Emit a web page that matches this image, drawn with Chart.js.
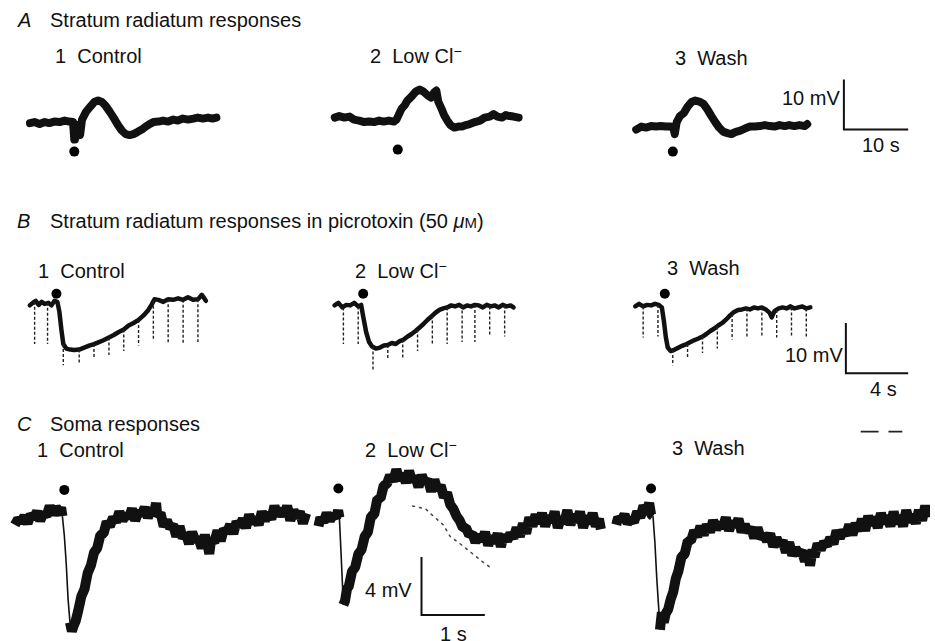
<!DOCTYPE html>
<html>
<head>
<meta charset="utf-8">
<script src="https://cdn.jsdelivr.net/npm/chart.js@4/dist/chart.umd.min.js"></script>
<style>
body { margin:0; background:#fff; width:935px; height:641px; overflow:hidden; position:relative;
       font-family:"Liberation Sans", Arial, sans-serif; color:#111; }
canvas { position:absolute; left:0; }
.lbl { position:absolute; font-size:20px; line-height:20px; white-space:pre; }
.sup { font-size:14px; position:relative; top:-7px; }
.it { font-style:italic; }
</style>
</head>
<body>

<div class="lbl it" style="left:18px;top:10px">A</div>
<div class="lbl" style="left:50px;top:10px">Stratum radiatum responses</div>
<div class="lbl" style="left:55px;top:46px">1  Control</div>
<div class="lbl" style="left:370px;top:46px">2  Low Cl<span class="sup">−</span></div>
<div class="lbl" style="left:675px;top:48px">3  Wash</div>
<div class="lbl" style="left:782px;top:88px">10 mV</div>
<div class="lbl" style="left:862px;top:135px">10 s</div>

<div class="lbl it" style="left:17px;top:211px">B</div>
<div class="lbl" style="left:50px;top:211px">Stratum radiatum responses in picrotoxin (50 <i>μ</i><span style="font-size:15px">M</span>)</div>
<div class="lbl" style="left:38px;top:261px">1  Control</div>
<div class="lbl" style="left:355px;top:261px">2  Low Cl<span class="sup">−</span></div>
<div class="lbl" style="left:667px;top:258px">3  Wash</div>
<div class="lbl" style="left:785px;top:345px">10 mV</div>
<div class="lbl" style="left:870px;top:379px">4 s</div>

<div class="lbl it" style="left:17px;top:414px">C</div>
<div class="lbl" style="left:50px;top:414px">Soma responses</div>
<div class="lbl" style="left:37px;top:440px">1  Control</div>
<div class="lbl" style="left:365px;top:440px">2  Low Cl<span class="sup">−</span></div>
<div class="lbl" style="left:672px;top:438px">3  Wash</div>
<div class="lbl" style="left:365px;top:580px">4 mV</div>
<div class="lbl" style="left:440px;top:624px">1 s</div>

<canvas id="panelA" width="935" height="110" style="top:60px"></canvas>
<canvas id="panelB" width="935" height="115" style="top:275px"></canvas>
<canvas id="panelC" width="935" height="221" style="top:420px"></canvas>

<script>
// ---- A: stratum radiatum, time in s, voltage in mV ----
const a1Time = [-7.2,-6.5,-5.7,-4.9,-4.2,-3.4,-2.6,-1.8,-1.1,-0.5,-0.3,-0.2,0.3,0.6,0.9,1.5,2.2,2.8,3.4,4.0,4.6,5.2,5.8,6.5,7.1,7.7,8.3,8.9,9.5,10.2,10.8,11.4,12.0,12.8,13.5,14.3,15.1,15.8,16.6,17.4,18.2,18.9,19.7,20.5,21.2,21.8];
const a1mV = [0.2,0.4,0,0.4,0.2,0.5,0.4,0.7,0.5,0.4,-3.1,-0.2,-0.2,-2.2,0.9,2.4,3.5,4.4,4.7,4.4,3.6,2.5,1.3,-0.2,-1.3,-2.0,-2.2,-2.0,-1.6,-1.1,-0.5,0,0.4,0.5,0.7,0.5,0.9,0.7,1.1,0.9,1.1,1.3,1.1,1.3,1.1,1.3];

const a2Time = [-9.8,-9.1,-8.3,-7.5,-6.8,-6.0,-5.2,-4.5,-3.7,-2.9,-2.2,-1.4,-0.6,-0.2,0.2,0.6,1.1,1.5,2.2,2.8,3.4,4.0,4.6,5.2,5.7,6.0,6.3,6.8,7.2,7.7,8.2,8.8,9.4,10.0,10.6,11.2,12.0,12.8,13.5,14.3,14.9,15.5,16.2,16.8,17.4,18.0,18.8];
const a2mV = [1.3,1.6,1.3,1.5,0.9,0.7,0.4,0.5,0.4,0.7,0.5,0.7,0.5,0.9,2.0,3.1,3.8,4.7,5.6,6.5,6.9,6.5,5.8,5.3,6.4,6.7,4.5,3.1,1.8,0.7,-0.2,-0.7,-0.5,-0.5,-0.2,0,0.4,0.7,1.3,1.5,2.0,1.5,1.3,1.8,1.6,1.5,1.3];

const a3Time = [-6.0,-5.2,-4.5,-3.7,-2.9,-2.2,-1.4,-0.6,-0.2,0,0.3,0.8,1.4,2.0,2.6,3.2,3.8,4.5,5.1,5.7,6.3,6.9,7.5,8.2,8.8,9.4,10.2,10.9,11.7,12.5,13.2,14.0,14.8,15.5,16.3,17.1,17.8,18.6,19.4,20.2,20.6];
const a3mV = [-1.1,-0.5,-0.7,-0.4,-0.5,-0.4,-0.5,-0.5,-0.9,-2.0,0.4,1.6,2.2,3.5,4.4,4.7,4.5,4.0,2.9,1.6,0.4,-0.7,-1.5,-1.8,-2.0,-1.6,-1.3,-0.9,-0.5,-0.5,-0.4,-0.2,-0.4,-0.5,-0.2,-0.4,-0.2,-0.4,-0.2,-0.4,0];

const aStimTime = [-0.3, 0, -0.3];
const aStimmV = [-5.5, -5.1, -5.5];

// ---- B: picrotoxin, time in s, voltage in mV ----
const b1Time = [-1.71,-1.52,-1.33,-1.14,-0.95,-0.76,-0.51,-0.32,-0.13,0.06,0.19,0.32,0.44,0.63,0.89,1.14,1.46,1.78,2.10,2.41,2.73,3.05,3.37,3.68,4.00,4.32,4.63,4.95,5.27,5.59,5.90,6.10,6.29,6.54,6.86,7.17,7.49,7.81,8.13,8.44,8.76,9.08,9.33,9.59];
const b1mV = [0.4,0.9,1.3,0.5,1.1,0.7,0.9,0.4,1.3,1.1,-0.9,-4.5,-7.3,-8.2,-8.4,-8.5,-8.4,-8.0,-7.6,-7.3,-6.9,-6.5,-6.0,-5.5,-4.9,-4.4,-3.6,-3.1,-2.5,-1.6,-0.5,0.5,1.6,1.5,1.1,1.6,1.5,1.8,1.5,2.0,1.5,1.6,2.5,1.3];
const b1PulseTime = [-1.40,-0.57,0.44,1.46,2.41,3.37,4.32,5.27,6.22,7.17,8.13,9.08];
const b1PulseTop = [1.1,0.9,-7.3,-8.4,-7.3,-6.0,-4.4,-2.5,1.3,1.6,1.5,1.6];
const b1PulseBottom = [-7.3,-7.3,-11.5,-11.3,-10.0,-9.5,-8.7,-7.6,-6.4,-7.3,-7.3,-6.9];

const b2Time = [-1.71,-1.46,-1.21,-0.95,-0.70,-0.44,-0.19,0,0.13,0.32,0.51,0.70,0.95,1.21,1.46,1.71,1.97,2.22,2.48,2.73,2.98,3.24,3.49,3.75,4.00,4.25,4.51,4.76,5.02,5.27,5.52,5.78,6.03,6.29,6.54,6.79,7.05,7.30,7.56,7.81,8.06,8.32,8.57,8.83,9.08,9.33,9.59,9.78];
const b2mV = [0.4,0.9,0,0.5,0.4,0.9,0.2,0.5,-1.8,-4.9,-6.9,-7.8,-8.2,-8.0,-7.6,-7.5,-7.1,-7.3,-6.7,-6.4,-5.8,-5.3,-4.7,-4.0,-3.3,-2.5,-1.8,-1.1,-0.5,-0.2,0,0.4,0.2,0.5,0,0.4,0.2,0.5,0.4,0,0.5,0.2,0.4,0,0.5,0.2,0.4,0];
const b2PulseTime = [-1.14,-0.19,0.76,1.71,2.67,3.62,4.57,5.52,6.48,7.30,8.25,9.21];
const b2PulseTop = [0,0.2,-7.8,-7.5,-6.4,-4.4,-1.6,0,0.4,0.5,0.2,0.4];
const b2PulseBottom = [-7.3,-7.3,-12.7,-10.5,-10.0,-8.7,-7.6,-7.3,-6.9,-6.9,-5.5,-5.8];

const b3Time = [-1.65,-1.40,-1.14,-0.89,-0.63,-0.38,-0.13,0.06,0.19,0.32,0.44,0.63,0.89,1.14,1.40,1.65,1.90,2.16,2.41,2.67,2.92,3.17,3.43,3.68,3.94,4.19,4.44,4.70,4.95,5.21,5.46,5.71,5.97,6.22,6.48,6.73,6.98,7.11,7.30,7.56,7.81,8.06,8.32,8.57,8.83,9.08,9.33,9.59];
const b3mV = [0.2,0.7,0.2,0.5,0.4,0.7,0.5,0,-2.7,-6.0,-8.0,-8.7,-8.4,-8.0,-7.6,-7.3,-6.9,-6.5,-6.2,-5.8,-5.3,-4.7,-4.2,-3.6,-3.1,-2.4,-1.6,-0.9,-0.5,-0.4,-0.2,-0.4,0,-0.2,0,-0.4,-1.1,-2.0,-0.7,-0.2,0,-0.2,0.2,-0.2,0,0.2,-0.2,0];
const b3PulseTime = [-1.14,-0.19,0.76,1.71,2.67,3.62,4.57,5.52,6.48,7.43,8.38,9.33];
const b3PulseTop = [0.2,0.5,-8.5,-7.3,-5.8,-3.8,-1.3,-0.2,0,-0.5,0,-0.2];
const b3PulseBottom = [-6.0,-5.8,-11.5,-10.0,-9.1,-8.2,-6.4,-6.0,-6.0,-6.0,-6.0,-6.0];

const bStimTime = [0, 0.13, 0.25];
const bStimmV = [2.7, 2.7, 2.7];

// ---- C: soma, time in ms, voltage in mV ----
const c1Time = [-750,-700,-650,-600,-550,-500,-450,-400,-350,-300,-250,-200,-150,-100,-50,-20,0,30,60,90,120,150,180,210,250,300,350,400,450,500,550,600,650,700,750,800,850,900,950,1000,1050,1100,1150,1200,1250,1300,1350,1400,1450,1480,1500,1550,1600,1650,1700,1750,1800,1850,1900,1950,2000,2050,2100,2150,2200,2250,2300,2320,2350,2400,2450,2500,2550,2600,2650,2700,2750,2800,2850,2900,2950,3000,3050,3100,3150,3200,3250,3300,3350,3400,3450,3500,3550,3600,3650,3700,3750,3800,3850];
const c1mV = [-0.3,0.1,-0.1,0.3,-0.2,0.4,0.2,0.6,0.0,0.5,0.3,1.0,0.4,0.9,0.6,0.9,0.3,-1.0,-2.9,-5.4,-7.0,-7.6,-7.2,-6.9,-6.2,-5.2,-4.7,-3.6,-3.1,-2.2,-1.9,-1.0,-0.9,-0.1,-0.4,0.2,-0.1,0.6,0.0,0.4,0.2,0.8,0.0,0.6,0.4,0.9,0.2,0.7,0.6,1.2,0.3,0.5,-0.4,0.0,-0.5,-0.3,-1.1,-0.4,-1.2,-0.9,-1.6,-0.8,-1.4,-1.2,-1.9,-1.0,-1.8,-2.3,-1.3,-1.5,-0.7,-1.4,-0.6,-0.8,-0.3,-0.9,-0.1,-0.4,0.1,-0.5,0.4,-0.2,0.2,-0.3,0.6,0.0,0.5,0.1,1.0,0.3,0.8,0.3,1.0,0.0,0.7,0.2,0.6,-0.2,0.5];

const c2Time = [-330,-300,-250,-200,-150,-100,-50,-20,0,30,63,90,120,150,200,250,300,350,400,450,500,550,600,650,700,750,800,850,900,950,1000,1050,1100,1150,1200,1250,1300,1350,1400,1450,1500,1550,1600,1650,1700,1750,1800,1850,1900,1950,2000,2050,2100,2150,2200,2250,2300,2350,2400,2450,2500,2550,2600,2650,2700,2750,2800,2850,2900,2950,3000,3050,3100,3150,3200,3250,3300,3350,3400,3450,3500,3550,3600,3650,3700,3750,3800,3850,3900,3950,4000,4050,4100,4130];
const c2mV = [-0.4,0.2,-0.1,0.5,0.0,0.4,0.2,0.7,0.2,-2.6,-5.8,-5.5,-4.7,-4.5,-3.5,-3.2,-2.3,-2.0,-1.1,-0.8,0.3,0.4,1.5,1.5,2.4,2.5,3.1,2.7,3.5,2.8,3.2,2.6,3.4,2.7,3.0,2.3,3.1,2.6,2.8,2.0,2.8,2.1,2.4,1.6,1.9,1.1,0.8,0.3,0.0,-0.5,-0.5,-1.0,-0.9,-1.5,-1.0,-1.4,-0.8,-1.7,-1.1,-1.5,-0.9,-1.8,-1.0,-1.4,-0.9,-1.2,-0.5,-1.1,-0.2,-0.9,0.2,-0.4,0.4,-0.2,0.5,-0.4,0.3,-0.1,0.6,-0.5,0.2,-0.2,0.7,-0.3,0.4,-0.1,0.6,-0.5,0.3,-0.2,0.5,-0.4,0.1,-0.6];
// dotted extrapolation under the low Cl- response
const c2FitTime = [1156,1359,1484,1641,1750,1906,2109,2250,2375];
const c2FitmV = [1.0,0.8,0.3,-0.3,-1.1,-1.6,-2.3,-2.8,-3.2];

const c3Time = [-580,-550,-500,-450,-400,-350,-300,-250,-200,-150,-100,-60,-30,0,30,60,90,110,140,170,200,240,280,320,360,400,450,500,550,600,650,700,750,800,850,900,950,1000,1050,1100,1150,1200,1250,1300,1350,1400,1450,1500,1550,1600,1650,1700,1750,1800,1850,1900,1950,2000,2050,2100,2150,2200,2250,2300,2350,2400,2450,2480,2520,2550,2600,2650,2700,2750,2800,2850,2900,2950,3000,3050,3100,3150,3200,3250,3300,3350,3400,3450,3500,3550,3600,3650,3700,3750,3800,3850,3900,3950,4000,4050,4100,4150,4200,4250,4300,4344];
const c3mV = [-0.3,0.2,0.0,0.4,-0.2,0.1,-0.1,0.6,0.2,1.0,0.6,1.2,0.4,0.3,-1.5,-4.0,-6.0,-7.5,-6.3,-7.0,-6.4,-6.1,-5.4,-4.9,-4.0,-3.5,-2.5,-2.3,-1.4,-1.4,-0.7,-1.1,-0.4,-1.0,-0.3,-0.8,0.0,-0.6,-0.2,-0.5,0.2,-0.7,-0.1,-0.4,0.1,-0.8,-0.3,-0.8,-0.5,-1.2,-0.5,-1.2,-1.0,-1.4,-0.9,-1.8,-1.2,-1.7,-1.4,-2.2,-1.5,-2.4,-1.9,-2.3,-2.1,-2.8,-2.1,-3.1,-2.0,-2.5,-1.6,-2.0,-1.5,-1.7,-1.2,-1.6,-0.7,-1.2,-0.7,-1.0,-0.3,-1.0,-0.2,-0.7,0.1,-0.7,0.3,-0.3,0.2,-0.5,0.5,-0.2,0.3,-0.4,0.6,-0.2,0.3,-0.4,0.7,-0.1,0.4,-0.2,0.7,0.0,1.0,0.2];

const cStimTime = [31, -16, -31];
const cStimmV = [2.1, 2.2, 2.2];
const cMarkTime = [3281, 3719];
const cMarkLen = [282, 219];
const cMarkmV = [6.1, 6.1];

// calibration bars: corner (time, mV) and lengths
const barA = { t: 26.3, v: -1.1, dt: 10, dv: 10 };
const barB = { t: 11.87, v: -13.1, dt: 4, dv: 10 };
const barC = { t: 1297, v: -6.5, dt: 1000, dv: 4 };

// ---- page geometry (px) ----
const W = 935;

function xAxes(stimPx, pxPerUnit) {
    const s = {};
    stimPx.forEach(function (px, i) {
        s['x' + (i + 1)] = { type: 'linear', position: 'bottom', display: false,
            min: -px / pxPerUnit, max: (W - px) / pxPerUnit };
    });
    return s;
}
function yAxis(top, height, zeroPx, pxPerUnit) {
    return { type: 'linear', display: false,
        min: (zeroPx - top - height) / pxPerUnit, max: (zeroPx - top) / pxPerUnit };
}

// fast transients come out as a thin stroke, like on the scope
function fastThin(c) {
    const dy = Math.abs(c.p1.y - c.p0.y);
    const dx = Math.abs(c.p1.x - c.p0.x);
    return (dy > 18.5 && dy > 4 * dx) ? 1.6 : undefined;
}

function trace(xs, ys, axis, width, join) {
    return {
        data: xs.map(function (x, i) { return { x: x, y: ys[i] }; }),
        xAxisID: axis, yAxisID: 'y', showLine: true,
        borderColor: '#111', borderWidth: width, pointRadius: 0,
        borderJoinStyle: join || 'round', borderCapStyle: join ? 'butt' : 'round',
        segment: { borderWidth: fastThin }
    };
}
function pulses(xs, tops, bottoms, axis) {
    const d = [];
    xs.forEach(function (x, i) {
        d.push({ x: x, y: tops[i] }, { x: x, y: bottoms[i] }, { x: x, y: null });
    });
    return { data: d, xAxisID: axis, yAxisID: 'y', showLine: true, spanGaps: false,
        borderColor: '#222', borderWidth: 1.4, borderDash: [3, 2], pointRadius: 0 };
}
function stim(t, v, axis) {
    return { data: [{ x: t, y: v }], xAxisID: axis, yAxisID: 'y', showLine: false,
        pointRadius: 5, backgroundColor: '#000', borderWidth: 0 };
}
function calBar(b, axis) {
    return { data: [{ x: b.t, y: b.v + b.dv }, { x: b.t, y: b.v }, { x: b.t + b.dt, y: b.v }],
        xAxisID: axis, yAxisID: 'y', showLine: true, borderColor: '#111',
        borderWidth: 2, pointRadius: 0, borderJoinStyle: 'miter' };
}
function opts(scales) {
    return {
        responsive: false, animation: false, devicePixelRatio: 1,
        layout: { padding: 0 },
        scales: scales,
        plugins: { legend: { display: false }, tooltip: { enabled: false } }
    };
}

// panel A
const scalesA = xAxes([72, 397, 677], 6.5);
scalesA.y = yAxis(60, 110, 125, 5.5);
const ctxA = document.getElementById('panelA').getContext('2d');
const panelA = new Chart(ctxA, {
    type: 'scatter',
    data: {
        datasets: [
            trace(a1Time, a1mV, 'x1', 8),
            trace(a2Time, a2mV, 'x2', 8),
            trace(a3Time, a3mV, 'x3', 8),
            stim(aStimTime[0], aStimmV[0], 'x1'),
            stim(aStimTime[1], aStimmV[1], 'x2'),
            stim(aStimTime[2], aStimmV[2], 'x3'),
            calBar(barA, 'x3')
        ]
    },
    options: opts(scalesA)
});

// panel B
const scalesB = xAxes([52, 360, 663], 15.75);
scalesB.y = yAxis(275, 115, 305, 5.5);
const ctxB = document.getElementById('panelB').getContext('2d');
const panelB = new Chart(ctxB, {
    type: 'scatter',
    data: {
        datasets: [
            pulses(b1PulseTime, b1PulseTop, b1PulseBottom, 'x1'),
            pulses(b2PulseTime, b2PulseTop, b2PulseBottom, 'x2'),
            pulses(b3PulseTime, b3PulseTop, b3PulseBottom, 'x3'),
            trace(b1Time, b1mV, 'x1', 4.5),
            trace(b2Time, b2mV, 'x2', 4.5),
            trace(b3Time, b3mV, 'x3', 4.5),
            stim(bStimTime[0], bStimmV[0], 'x1'),
            stim(bStimTime[1], bStimmV[1], 'x2'),
            stim(bStimTime[2], bStimmV[2], 'x3'),
            calBar(barB, 'x3')
        ]
    },
    options: opts(scalesB)
});

// panel C
const scalesC = xAxes([58, 338, 655], 0.064);
scalesC.y = yAxis(420, 221, 520, 15.25);
const ctxC = document.getElementById('panelC').getContext('2d');
const fitC = trace(c2FitTime, c2FitmV, 'x2', 1.5);
fitC.borderDash = [2, 5];
fitC.borderColor = '#444';
const marksC = pulses(cMarkTime, cMarkmV, cMarkmV, 'x3');
marksC.data = [];
cMarkTime.forEach(function (t, i) {
    marksC.data.push({ x: t, y: cMarkmV[i] }, { x: t + cMarkLen[i], y: cMarkmV[i] }, { x: t, y: null });
});
marksC.borderDash = [];
marksC.borderWidth = 1.6;
const panelC = new Chart(ctxC, {
    type: 'scatter',
    data: {
        datasets: [
            trace(c1Time, c1mV, 'x1', 10, 'bevel'),
            trace(c2Time, c2mV, 'x2', 10, 'bevel'),
            trace(c3Time, c3mV, 'x3', 10, 'bevel'),
            fitC,
            stim(cStimTime[0], cStimmV[0], 'x1'),
            stim(cStimTime[1], cStimmV[1], 'x2'),
            stim(cStimTime[2], cStimmV[2], 'x3'),
            calBar(barC, 'x2'),
            marksC
        ]
    },
    options: opts(scalesC)
});
</script>
</body>
</html>
